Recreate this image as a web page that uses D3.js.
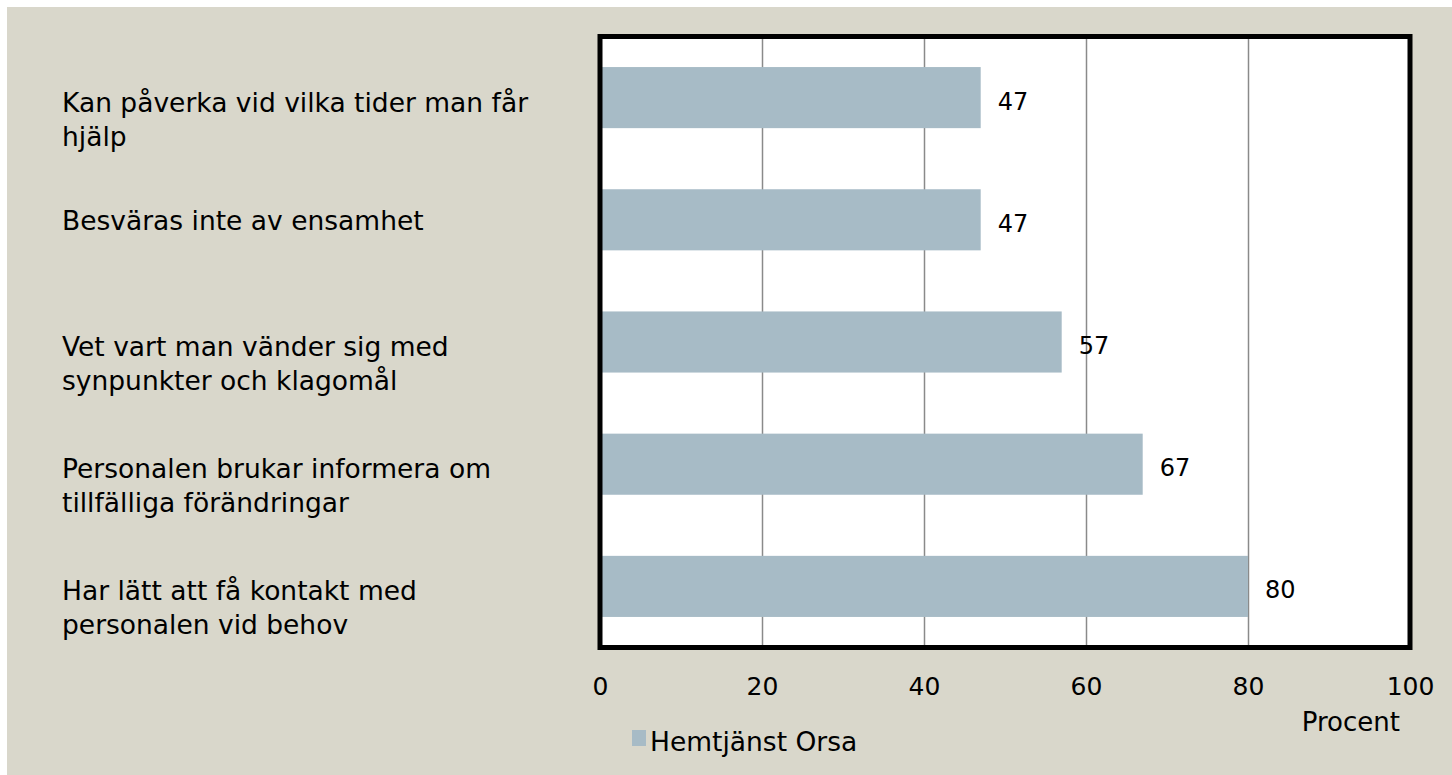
<!DOCTYPE html>
<html>
<head>
<meta charset="utf-8">
<script src="https://cdn.jsdelivr.net/npm/d3@7"></script>
<style>
  body { margin: 0; background: #fff; }
  text { font-family: "DejaVu Sans", sans-serif; fill: #000; }
</style>
</head>
<body>
<div id="chart"></div>
<script>
/* DATA */
const categories = [
  "Kan påverka vid vilka tider man får\nhjälp",
  "Besväras inte av ensamhet",
  "Vet vart man vänder sig med\nsynpunkter och klagomål",
  "Personalen brukar informera om\ntillfälliga förändringar",
  "Har lätt att få kontakt med\npersonalen vid behov"
];
const values = [47, 47, 57, 67, 80];
const ticks = [0, 20, 40, 60, 80, 100];
const seriesName = "Hemtjänst Orsa";
const axisTitle = "Procent";

/* CONSTANTS */
const W = 1452, H = 775;
const plotLeft = 600, plotRight = 1410, plotTop = 36.5, plotBottom = 647.5;
const barColor = "#a7bbc6";

const svg = d3.select("#chart").append("svg")
  .attr("width", W)
  .attr("height", H);

// background
svg.append("rect")
  .attr("x", 7).attr("y", 7)
  .attr("width", W - 7).attr("height", H - 7)
  .attr("fill", "#d9d7cb");

/* SCALES */
const x = d3.scaleLinear().domain([0, 100]).range([plotLeft, plotRight]);
const y = d3.scaleBand().domain(categories).range([plotTop, plotBottom])
  .paddingInner(0.5).paddingOuter(0.25);

// plot area
svg.append("rect")
  .attr("x", plotLeft).attr("y", plotTop)
  .attr("width", plotRight - plotLeft).attr("height", plotBottom - plotTop)
  .attr("fill", "#fff");

// gridlines
svg.append("g")
  .attr("transform", `translate(0,${plotBottom})`)
  .call(d3.axisBottom(x).tickValues(ticks).tickSize(-(plotBottom - plotTop)).tickFormat(""))
  .call(g => g.select(".domain").remove())
  .call(g => g.selectAll("line").attr("stroke", "#8a8a8a").attr("stroke-width", 1.5));

// bars
svg.selectAll("rect.bar")
  .data(values)
  .join("rect")
  .attr("class", "bar")
  .attr("x", x(0))
  .attr("y", (d, i) => y(categories[i]))
  .attr("width", d => x(d) - x(0))
  .attr("height", y.bandwidth())
  .attr("fill", barColor);

// value labels
svg.selectAll("text.val")
  .data(values)
  .join("text")
  .attr("class", "val")
  .attr("x", d => x(d) + 17)
  .attr("y", (d, i) => y(categories[i]) + y.bandwidth() / 2 + 12)
  .attr("font-size", 24)
  .text(d => d);

// frame
svg.append("rect")
  .attr("x", plotLeft).attr("y", plotTop)
  .attr("width", plotRight - plotLeft).attr("height", plotBottom - plotTop)
  .attr("fill", "none")
  .attr("stroke", "#000")
  .attr("stroke-width", 5);

// x axis labels
svg.append("g")
  .attr("transform", `translate(0,${plotBottom})`)
  .call(d3.axisBottom(x).tickValues(ticks).tickSize(0).tickPadding(30))
  .call(g => g.select(".domain").remove())
  .call(g => g.selectAll("text").attr("font-size", 25)
    .attr("font-family", "DejaVu Sans").attr("fill", "#000"));

// category labels
const catG = svg.selectAll("text.cat")
  .data(categories)
  .join("text")
  .attr("class", "cat")
  .attr("font-size", 26.5);

catG.each(function(d) {
  const lines = d.split("\n");
  const c = y(d) + y.bandwidth() / 2;
  const t = d3.select(this);
  lines.forEach((ln, j) => {
    t.append("tspan")
      .attr("x", 62)
      .attr("y", lines.length > 1 ? c + 14 + j * 34 : c + 10)
      .text(ln);
  });
});

// axis title
svg.append("text")
  .attr("x", 1400).attr("y", 731)
  .attr("text-anchor", "end")
  .attr("font-size", 26)
  .text(axisTitle);

// legend
svg.append("rect")
  .attr("x", 632).attr("y", 730)
  .attr("width", 14).attr("height", 16)
  .attr("fill", barColor);
svg.append("text")
  .attr("x", 650).attr("y", 751)
  .attr("font-size", 26.5)
  .text(seriesName);
</script>
</body>
</html>
